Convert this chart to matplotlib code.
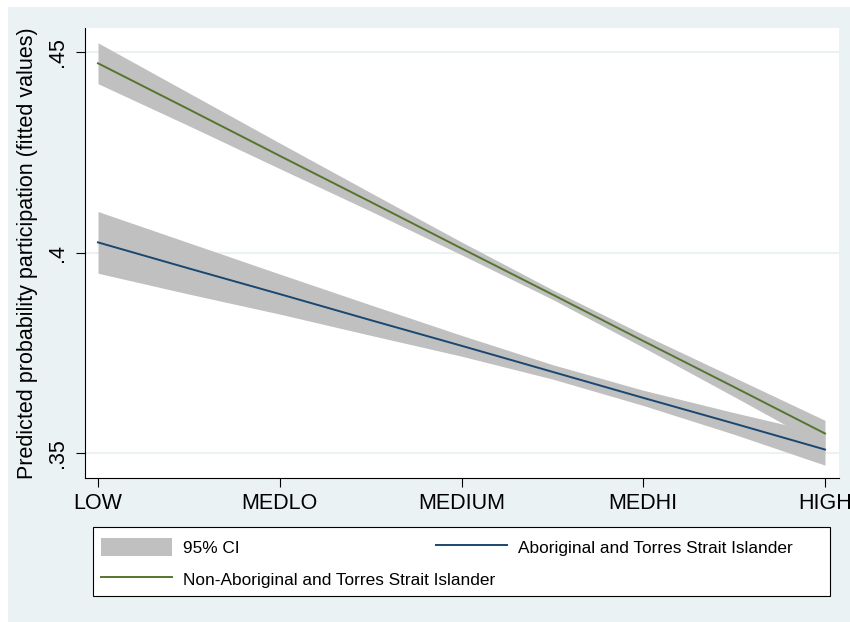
import matplotlib
matplotlib.use("Agg")
import matplotlib.pyplot as plt
from matplotlib.patches import Rectangle, Patch
from matplotlib.lines import Line2D

plt.rcParams['font.family'] = ['Liberation Sans', 'DejaVu Sans']

# ---- data ----
categories = ["LOW", "MEDLO", "MEDIUM", "MEDHI", "HIGH"]
xpos = [1, 1.5, 2, 2.5, 3, 3.5, 4, 4.5, 5]

nonab_fit = [.4473, .4358, .4242, .4127, .4011, .3896, .3780, .3665, .3549]
nonab_lo  = [.4422, .4317, .4210, .4104, .3995, .3884, .3764, .3641, .3516]
nonab_hi  = [.4524, .4399, .4274, .4150, .4027, .3908, .3796, .3689, .3582]

ab_fit = [.4026, .3961, .3897, .3832, .3768, .3703, .3638, .3574, .3509]
ab_lo  = [.3949, .3897, .3847, .3794, .3742, .3685, .3619, .3547, .3470]
ab_hi  = [.4103, .4025, .3947, .3870, .3794, .3721, .3657, .3601, .3548]

yticks = [.35, .4, .45]
ytick_labels = [".35", ".4", ".45"]

ci_label = "95% CI"
ab_label = "Aboriginal and Torres Strait Islander"
nonab_label = "Non-Aboriginal and Torres Strait Islander"
ylabel = "Predicted probability participation (fitted values)"

# ---- style ----
W, H = 850, 622
BG = "#EAF2F3"
GRAY = "#C0C0C0"
NAVY = "#1A476F"
GREEN = "#55752F"

fig = plt.figure(figsize=(W / 100, H / 100), dpi=100, facecolor="white")
fig.patches.append(Rectangle((8 / W, 0), 1 - 8 / W, 1 - 7 / H, transform=fig.transFigure,
                             facecolor=BG, edgecolor="none", zorder=-10))

ax = fig.add_axes([85 / W, 1 - 478 / H, (839 - 85) / W, (478 - 28) / H])
ax.set_facecolor("white")

ax.fill_between(xpos, nonab_lo, nonab_hi, color=GRAY, lw=0, zorder=2)
ax.fill_between(xpos, ab_lo, ab_hi, color=GRAY, lw=0, zorder=2)
ax.plot(xpos, ab_fit, color=NAVY, lw=1.4, zorder=3)
ax.plot(xpos, nonab_fit, color=GREEN, lw=1.4, zorder=3)

ax.set_xlim(0.9285, 5.077)
ax.set_ylim(0.3438, 0.4561)
ax.set_xticks(range(1, len(categories) + 1))
ax.set_xticklabels(categories, fontsize=15.5)
ax.set_yticks(yticks)
ax.set_yticklabels(ytick_labels, fontsize=15.5, rotation=90, va="center")
ax.tick_params(axis="x", length=6.5, width=0.8, pad=4.3, colors="black")
ax.tick_params(axis="y", length=6.5, width=0.8, pad=5.5, colors="black")
ax.yaxis.grid(True, color=BG, lw=1.5, zorder=0)
ax.set_axisbelow(True)
for s in ["top", "right"]:
    ax.spines[s].set_visible(False)
for s in ["left", "bottom"]:
    ax.spines[s].set_linewidth(0.8)
ax.set_ylabel(ylabel, fontsize=15.5, labelpad=7)

# ---- legend ----
fig.patches.append(Rectangle((93 / W, 1 - 596 / H), (830 - 93) / W, (596 - 527) / H,
                             transform=fig.transFigure, facecolor="white",
                             edgecolor="black", lw=0.8, zorder=1))
h_ci = Patch(facecolor=GRAY, edgecolor="none")
h_ab = Line2D([], [], color=NAVY, lw=1.4)
h_nab = Line2D([], [], color=GREEN, lw=1.4)
fs_leg = 12.4
leg_kw = dict(frameon=False, borderpad=0, borderaxespad=0, handlelength=4.13,
              handleheight=1.22, handletextpad=0.64, fontsize=fs_leg, loc="center left")
leg1 = fig.legend([h_ci, h_ab], [ci_label, ab_label], ncol=2, columnspacing=11.4,
                  bbox_to_anchor=(101 / W, 1 - 547 / H), **leg_kw)
leg2 = fig.legend([h_nab], [nonab_label], bbox_to_anchor=(101 / W, 1 - 579 / H), **leg_kw)
leg1.set_zorder(5)
leg2.set_zorder(5)

fig.savefig("out.png", dpi=100, facecolor="white")
